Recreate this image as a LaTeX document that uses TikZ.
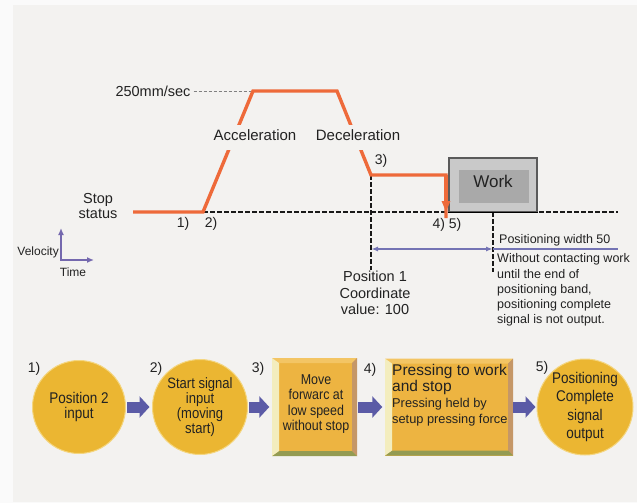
\documentclass[tikz,border=0pt]{standalone}
\usepackage{fontspec}
\setmainfont{Liberation Sans}
\newfontfamily\narrowfont{Liberation Sans}[FakeStretch=0.87]
\usetikzlibrary{arrows.meta,calc}
\definecolor{bg}{HTML}{F3F2F0}
\definecolor{orng}{HTML}{EE6A3A}
\definecolor{txt}{HTML}{222222}
\definecolor{gold}{HTML}{EBB632}
\definecolor{goldedge}{HTML}{F4D680}
\definecolor{face}{HTML}{EDB441}
\definecolor{bevtop}{HTML}{F3C564}
\definecolor{bevleft}{HTML}{F3EDBE}
\definecolor{bevbot}{HTML}{939B52}
\definecolor{bevright}{HTML}{C59767}
\definecolor{arrblue}{HTML}{5B5BA6}
\definecolor{bluln}{HTML}{7474B4}
\definecolor{axcol}{HTML}{7468AE}
\definecolor{workout}{HTML}{C9C9C9}
\definecolor{workborder}{HTML}{5A5A5A}
\definecolor{workin}{HTML}{A9A9A9}
\newcommand\myfs[2]{\fontsize{#1}{#2}\selectfont}
\begin{document}
\begin{tikzpicture}[x=1pt,y=-1pt,
  every node/.style={text=txt, inner sep=0pt},
  orangeln/.style={draw=orng, line width=3.4pt, line join=miter},
  blkdash/.style={draw=black!90, line width=1.4pt, dash pattern=on 4.5pt off 2.5pt},
  graydash/.style={draw=black!50, line width=0.7pt, dash pattern=on 3pt off 2pt},
  blueline/.style={draw=bluln, line width=1.6pt},
  axarrow/.style={draw=axcol, line width=1.8pt, -{Latex[length=7pt,width=6pt]}},
  lbl/.style={font=\myfs{14.5}{16}},
  numlbl/.style={font=\myfs{14}{16}},
  gaplbl/.style={font=\myfs{15}{17}, fill=bg, text height=10pt, text depth=3pt, inner xsep=2pt, inner ysep=6pt},
  smalltxt/.style={font=\myfs{12.5}{15.3}, align=left},
  goldcircle/.style={circle, fill=gold, draw=goldedge, line width=1pt, align=center, font=\narrowfont\myfs{15}{15.2}},
  bevelbox/.style={rectangle, fill=face, draw=none, path picture={
     \coordinate (pnw) at (path picture bounding box.north west);
     \coordinate (pne) at (path picture bounding box.north east);
     \coordinate (psw) at (path picture bounding box.south west);
     \coordinate (pse) at (path picture bounding box.south east);
     \fill[bevtop] (pnw) -- (pne) -- ($(pne)+(-5pt,-5pt)$) -- ($(pnw)+(7pt,-5pt)$) -- cycle;
     \fill[bevright] (pne) -- (pse) -- ($(pse)+(-5pt,5pt)$) -- ($(pne)+(-5pt,-5pt)$) -- cycle;
     \fill[bevbot] (psw) -- (pse) -- ($(pse)+(-5pt,5pt)$) -- ($(psw)+(7pt,5pt)$) -- cycle;
     \fill[bevleft] (pnw) -- (psw) -- ($(psw)+(7pt,5pt)$) -- ($(pnw)+(7pt,-5pt)$) -- cycle;
  }},
  blockarr/.style={draw=arrblue, line width=11pt, -{Triangle[length=10pt,width=21pt]}, shorten <=1pt, shorten >=2.5pt}
]
\useasboundingbox (0,0) rectangle (637,503);
\fill[white!98!black] (0,0) rectangle (637,503);
\fill[bg] (13,5) rectangle (637,502);

% ---------- velocity profile ----------
\coordinate (o0) at (133,212);
\coordinate (o1) at (203,212);
\coordinate (o2) at (253,91);
\coordinate (o3) at (337,91);
\coordinate (o4) at (371,175);
\coordinate (o5) at (446,175);
\coordinate (o6) at (446,212);
\coordinate (bEnd) at (618,212);
\coordinate (v1b) at (371,270);
\coordinate (v2t) at (493,212);
\coordinate (v2b) at (493,272);
\coordinate (w1) at (371,249);
\coordinate (w2) at (493,249);
\coordinate (w3) at (618,249);

\draw[blkdash] (o1) -- (bEnd);
\draw[blkdash] (o4) -- (v1b);
\draw[blkdash] (v2t) -- (v2b);

\node[font=\myfs{14.5}{16}] (v250) at (153,91) {250mm/sec};
\draw[graydash] ([xshift=3pt]v250.east) -- (o2);

\node[rectangle, fill=workout, draw=workborder, line width=1.2pt, minimum width=88pt, minimum height=54pt] (work) at (493,185) {};
\draw[black, line width=1.4pt] (work.south west) -- (work.south east);
\node[rectangle, fill=workin, minimum width=70pt, minimum height=33pt] (workin) at (494,186.5) {};
\node[font=\myfs{17}{20}] (worktxt) at (493,181) {Work};

\draw[orangeln] (o0) -- (o1) -- (o2) -- (o3) -- (o4) -- (o5) -- ([yshift=-6pt]o6);
\draw[orng, line width=3.4pt, -{Triangle[length=11pt,width=8pt]}] (o5) -- (o6);

\node[gaplbl] (accel) at (255,137) {Acceleration};
\node[gaplbl] (decel) at (358,137) {Deceleration};

\node[lbl, align=center, font=\myfs{14.5}{15}] (stop) at (98,206) {Stop\\status};
\node[numlbl] (n1) at (183,224) {1)};
\node[numlbl] (n2) at (211,224) {2)};
\node[numlbl] (n3) at (381,161) {3)};
\node[numlbl] (n45) at (447,225) {4) 5)};

\draw[blueline, {Latex[length=7pt,width=5pt]}-{Latex[length=7pt,width=5pt]}] (w1) -- (w2);
\draw[blueline] (w2) -- (w3);

\node[font=\myfs{12.5}{15}, anchor=west] (pw50) at (499,240) {Positioning width 50};
\node[smalltxt, anchor=north west] (note) at (497,253.5) {Without contacting work\\until the end of\\positioning band,\\positioning complete\\signal is not output.};
\node[align=center, font=\myfs{14.5}{16.5}, anchor=north] (pos1) at (375,271) {Position 1\\Coordinate\\value: 100};

\coordinate (ax0) at (61,260);
\coordinate (axup) at (61,228);
\coordinate (axrt) at (94,260);
\draw[axarrow] (ax0) -- (axup);
\draw[axarrow] ([xshift=-0.9pt]ax0) -- (axrt);
\node[font=\myfs{12}{14}, anchor=east] (vel) at (59,252) {Velocity};
\node[font=\myfs{12}{14}] (time) at (73,272) {Time};

% ---------- process flow ----------
\node[goldcircle, minimum size=93pt, font=\narrowfont\myfs{15.5}{14.5}] (c1) at (79,407) {Position 2\\input};
\node[goldcircle, minimum size=95pt] (c2) at (200,407) {Start signal\\input\\(moving\\start)};
\node[bevelbox, minimum width=85pt, minimum height=98pt] (b3) at (314.5,407) {};
\node[align=center, font=\narrowfont\myfs{14.3}{15.5}] (b3txt) at (316,404) {Move\\forwarc at\\low speed\\without stop};
\node[bevelbox, minimum width=128pt, minimum height=97pt] (b4) at (449,407) {};
\node[align=left, anchor=north west, font=\myfs{15.5}{16}] (b4txt) at (392,364) {Pressing to work\\and stop\\\myfs{12.8}{16}Pressing held by\\\myfs{12.8}{16}setup pressing force};
\node[goldcircle, minimum size=96pt, font=\narrowfont\myfs{15.5}{18.3}] (c5) at (585,407) {Positioning\\Complete\\signal\\output};

\draw[blockarr] (c1) -- (c2);
\draw[blockarr] (c2) -- (b3);
\draw[blockarr] (b3) -- (b4);
\draw[blockarr, shorten >=1pt, shorten <=0pt] (b4) -- (c5);

\node[numlbl] (m1) at (34,369) {1)};
\node[numlbl] (m2) at (156,369) {2)};
\node[numlbl] (m3) at (258,369) {3)};
\node[numlbl] (m4) at (370,370) {4)};
\node[numlbl] (m5) at (542,368) {5)};
\end{tikzpicture}
\end{document}
